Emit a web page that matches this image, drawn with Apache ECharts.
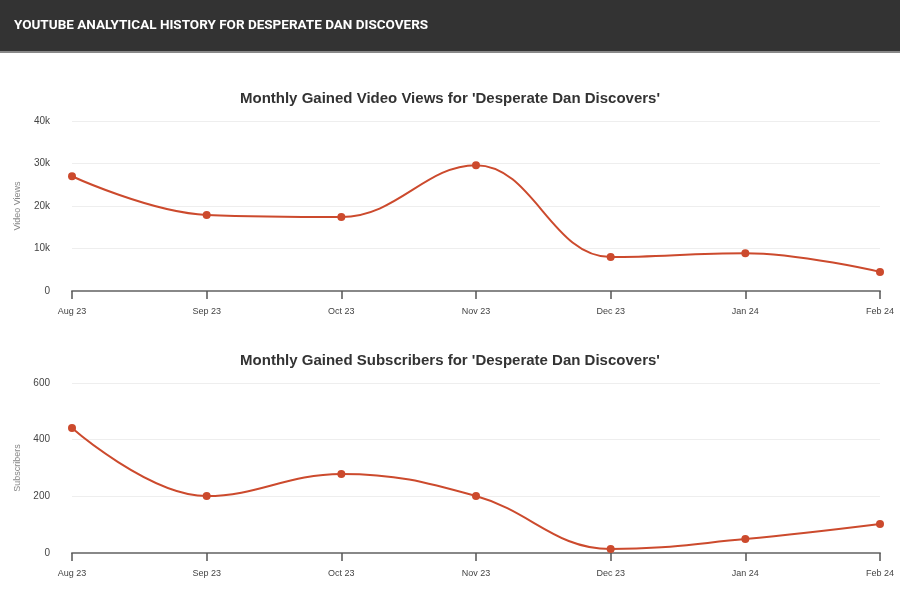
<!DOCTYPE html>
<html><head><meta charset="utf-8">
<script src="https://cdn.jsdelivr.net/npm/echarts@6/dist/echarts.min.js"></script>
<style>html,body{margin:0;padding:0;background:#fff}#c{width:900px;height:610px}</style>
</head><body><div id="c"></div>
<script>
const months = ['Aug 23','Sep 23','Oct 23','Nov 23','Dec 23','Jan 24','Feb 24'];
const videoViews = [27000, 17900, 17400, 29600, 8000, 8900, 4500];
const subscribers = [441, 201, 279, 201, 14, 49, 102];
const headerText = 'YOUTUBE ANALYTICAL HISTORY FOR DESPERATE DAN DISCOVERS';
const title1 = "Monthly Gained Video Views for 'Desperate Dan Discovers'";
const title2 = "Monthly Gained Subscribers for 'Desperate Dan Discovers'";

const lineColor = '#cc4a2d';
const chart = echarts.init(document.getElementById('c'), null, {renderer:'canvas'});
function xAxis(i){return {type:'category',gridIndex:i,data:months,boundaryGap:false,
  axisLine:{lineStyle:{color:'#888',width:2}},axisTick:{length:8,lineStyle:{color:'#555',width:1.5}},
  axisLabel:{color:'#444',fontSize:9,fontFamily:'Arial',margin:16}};}
function yAxis(i,name,max,interval,fmt){return {type:'value',gridIndex:i,min:0,max:max,interval:interval,
  name:name,nameLocation:'middle',nameGap:50,nameTextStyle:{color:'#888',fontSize:9,fontFamily:'Arial'},
  axisLine:{show:false},axisTick:{show:false},
  axisLabel:{color:'#444',fontSize:10,fontFamily:'Arial',margin:22,formatter:fmt},
  splitLine:{lineStyle:{color:'#eee',width:1}}};}
chart.setOption({
  animation:false,
  graphic:[
    {type:'rect',shape:{x:0,y:0,width:900,height:52},style:{fill:'#333'}},
    {type:'rect',shape:{x:0,y:51,width:900,height:2},style:{fill:'#888'}},
    {type:'text',left:14,top:19,style:{text:headerText,fill:'#fff',font:'bold 13.5px Roboto'}}
  ],
  title:[
    {text:title1,left:'center',top:86,textStyle:{fontSize:15,fontWeight:'bold',color:'#333',fontFamily:'Arial'}},
    {text:title2,left:'center',top:348,textStyle:{fontSize:15,fontWeight:'bold',color:'#333',fontFamily:'Arial'}}
  ],
  grid:[
    {left:72,right:20,top:121,height:170},
    {left:72,right:20,top:383,height:170}
  ],
  xAxis:[xAxis(0),xAxis(1)],
  yAxis:[
    yAxis(0,'Video Views',40000,10000,v=>v===0?'0':(v/1000)+'k'),
    yAxis(1,'Subscribers',600,200,v=>v)
  ],
  series:[
    {type:'line',xAxisIndex:0,yAxisIndex:0,data:videoViews,smooth:0.4,symbol:'circle',symbolSize:8,
     lineStyle:{color:lineColor,width:2},itemStyle:{color:lineColor}},
    {type:'line',xAxisIndex:1,yAxisIndex:1,data:subscribers,smooth:0.4,symbol:'circle',symbolSize:8,
     lineStyle:{color:lineColor,width:2},itemStyle:{color:lineColor}}
  ]
});
</script></body></html>
